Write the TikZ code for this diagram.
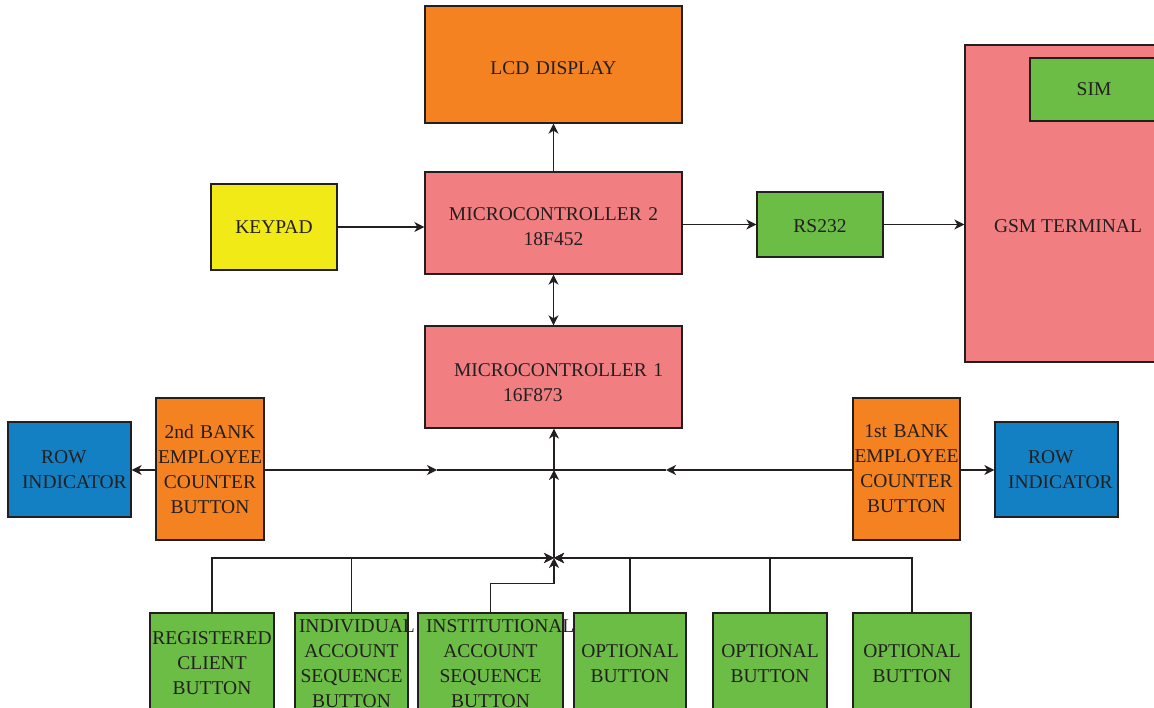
\documentclass[tikz,border=0pt]{standalone}
\usepackage{fontspec}
\setmainfont{Liberation Serif}
\usetikzlibrary{arrows.meta}

\definecolor{ink}{HTML}{231F20}
\definecolor{cOrange}{HTML}{F58220}
\definecolor{cPink}{HTML}{F17F82}
\definecolor{cYellow}{HTML}{F1EA16}
\definecolor{cGreen}{HTML}{6BBD45}
\definecolor{cBlue}{HTML}{1380C3}

\hyphenpenalty=10000
\exhyphenpenalty=10000

\tikzset{
  blk/.style={draw=ink, line width=1.3pt, inner sep=0pt, align=center,
    text=ink, font=\fontsize{19.5}{25}\selectfont},
  wire/.style={draw=ink, line width=1.4pt},
  tip/.tip={Stealth[length=10pt,width=10pt,inset=3pt]},
  arr/.style={wire, -tip},
  dblarr/.style={wire, tip-tip},
  lbl/.style={inner sep=0pt, text=ink, font=\fontsize{19.5}{25}\selectfont}
}
% raises the top of a first text line so the block sits lower in its box
\newcommand{\lowerby}[1]{\rule{0pt}{\dimexpr 13pt+#1\relax}}

\begin{document}
\begin{tikzpicture}[x=1pt,y=-1pt]
\useasboundingbox (0,0) rectangle (1154,708);
\clip (0,0) rectangle (1154,708);
\fill[white] (0,0) rectangle (1154,708);

% --- upper blocks ---
\node[blk, fill=cOrange, minimum width=257pt, minimum height=117pt, text width=257pt] (lcd) at (553.5,64.5) {\lowerby{7pt}LCD DISPLAY};
\node[blk, fill=cPink, minimum width=257pt, minimum height=102pt, text width=257pt] (mc2) at (553.5,223) {\lowerby{8pt}MICROCONTROLLER 2\\18F452};
\node[blk, fill=cPink, minimum width=257pt, minimum height=102pt, text width=257pt, align=left] (mc1) at (553.5,377) {\lowerby{11pt}\hspace*{29pt}MICROCONTROLLER 1\\\hspace*{78pt}16F873};
\node[blk, fill=cYellow, minimum width=126pt, minimum height=86pt, text width=126pt] (keypad) at (274,227) {KEYPAD};
\node[blk, fill=cGreen, minimum width=126pt, minimum height=65pt, text width=126pt] (rs) at (820,224.5) {\lowerby{4pt}RS232};

% GSM terminal with its SIM
\node[blk, fill=cPink, minimum width=206pt, minimum height=317pt] (gsm) at (1068,203.5) {};
\node[lbl] (gsmtext) at (1068,226) {GSM TERMINAL};
\node[blk, fill=cGreen, minimum width=128pt, minimum height=63pt, text width=128pt] (sim) at (1094,89.5) {SIM};

% --- bank employee counters and row indicators ---
\node[blk, fill=cOrange, minimum width=108pt, minimum height=142pt, text width=108pt] (bank2) at (210,469) {2nd BANK\\EMPLOYEE\\COUNTER\\BUTTON};
\node[blk, fill=cBlue, minimum width=123pt, minimum height=95pt, text width=123pt, align=left] (row2) at (69.5,469.5) {\hspace*{33pt}ROW\\\hspace*{14pt}INDICATOR};
\node[blk, fill=cOrange, minimum width=107pt, minimum height=142pt, text width=107pt] (bank1) at (906.5,469) {1st BANK\\EMPLOYEE\\COUNTER\\BUTTON};
\node[blk, fill=cBlue, minimum width=123pt, minimum height=95pt, text width=123pt, align=left] (row1) at (1056.5,469.5) {\hspace*{33pt}ROW\\\hspace*{13pt}INDICATOR};

% --- client buttons ---
\node[blk, fill=cGreen, minimum width=124pt, minimum height=101pt, text width=124pt] (reg) at (212,663.5) {REGISTERED\\CLIENT\\BUTTON};
\node[blk, fill=cGreen, minimum width=113pt, minimum height=101pt, text width=113pt] (indiv) at (351.5,663.5) {\hspace*{4pt}\mbox{INDIVIDUAL}\\ACCOUNT\\SEQUENCE\\BUTTON};
\node[blk, fill=cGreen, minimum width=145pt, minimum height=101pt, text width=145pt] (inst) at (490.5,663.5) {\hspace*{8pt}\mbox{INSTITUTIONAL}\\ACCOUNT\\SEQUENCE\\BUTTON};
\node[blk, fill=cGreen, minimum width=112pt, minimum height=101pt, text width=112pt] (opt1) at (630,663.5) {OPTIONAL\\BUTTON};
\node[blk, fill=cGreen, minimum width=114pt, minimum height=101pt, text width=114pt] (opt2) at (770,663.5) {OPTIONAL\\BUTTON};
\node[blk, fill=cGreen, minimum width=118pt, minimum height=101pt, text width=118pt] (opt3) at (912,663.5) {OPTIONAL\\BUTTON};

% --- bus points ---
\coordinate (junc) at (554,558);
\coordinate (hub) at (554,470);
\coordinate (lmid) at (437,470);
\coordinate (rmid) at (666,470);

% --- upper connectors ---
\draw[arr] (mc2.north) -- (lcd.south);
\draw[dblarr] (mc2.south) -- (mc1.north);
\draw[arr] (keypad.east) -- (keypad.east -| mc2.west);
\draw[arr] (mc2.east |- rs.west) -- (rs.west);
\draw[arr] (rs.east) -- (rs.east -| gsm.west);

% --- bank counters onto the bus ---
\draw[arr] (bank2.west |- hub) -- (row2.east |- hub);
\draw[arr] (bank1.east |- hub) -- (row1.west |- hub);
\draw[arr] (bank2.east |- hub) -- (lmid);
\draw[wire] (lmid) -- (hub);
\draw[arr] (bank1.west |- hub) -- (rmid);
\draw[wire] (rmid) -- (hub);

% --- client buttons into the junction ---
\draw[arr] (reg.north) |- (junc);
\draw[arr] (indiv.north) |- (junc);
\draw[arr] (inst.north) -- ++(0,-29) -| (junc);
\draw[arr] (opt1.north) |- (junc);
\draw[arr] (opt2.north) |- (junc);
\draw[arr] (opt3.north) |- (junc);

% --- junction up to microcontroller 1 ---
\draw[arr] (junc) -- (hub);
\draw[arr] (hub) -- (hub |- mc1.south);
\end{tikzpicture}
\end{document}
